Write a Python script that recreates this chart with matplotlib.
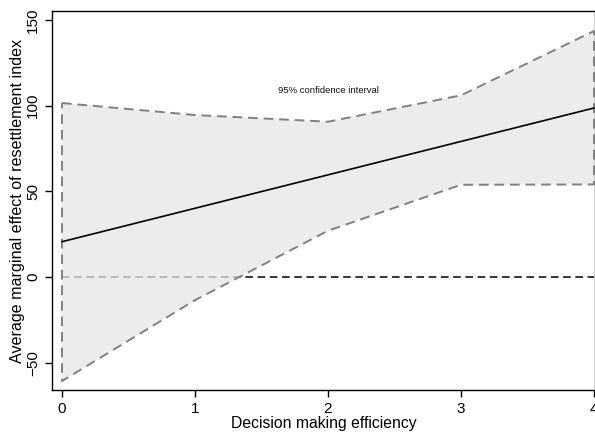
import matplotlib.pyplot as plt
import numpy as np

plt.rcParams['font.family'] = ['Liberation Sans', 'DejaVu Sans']

# values
efficiency = [0, 1, 2, 3, 4]
effect = [20.6, 40.1, 59.6, 79.1, 98.6]
ci_upper = [101.5, 94.5, 90.6, 106.0, 143.5]
ci_lower = [-60.7, -13.5, 27.0, 53.8, 54.0]

fig = plt.figure(figsize=(5.95, 4.34), dpi=100)
ax = fig.add_axes([0.0874, 0.1014, 0.9126, 0.8733])

# zero reference line (sits under the band, so it looks grey inside it)
ax.plot([efficiency[0], efficiency[-1]], [0, 0], color='black', lw=1.1,
        ls=(0, (5, 3)), zorder=1)

# confidence band
ax.fill_between(efficiency, ci_lower, ci_upper, facecolor=(0.9, 0.9, 0.9),
                alpha=0.75, lw=0, zorder=2)
xs = efficiency + efficiency[::-1] + [efficiency[0]]
ys = ci_upper + ci_lower[::-1] + [ci_upper[0]]
ax.plot(xs, ys, color='#808080', lw=1.4, ls=(0, (5, 3)), zorder=3)

ax.plot(efficiency, effect, color='black', lw=1.2, zorder=4)

ax.text(2.0, 109, "95% confidence interval", fontsize=6.8, ha='center',
        va='center', color='#111111')

ax.set_xlim(-0.075, 4.0075)
ax.set_ylim(-65.9, 155.2)
ax.set_xticks(efficiency)
ax.set_yticks([-50, 0, 50, 100, 150])
ax.tick_params(axis='both', direction='out', length=5, width=1, labelsize=11)
for lab in ax.get_yticklabels():
    lab.set_rotation(90)
    lab.set_va('center')
ax.set_xlabel("Decision making efficiency", fontsize=11.3, labelpad=0)
ax.set_ylabel("Average marginal effect of resettlement index", fontsize=11.6,
              labelpad=1)
for sp in ax.spines.values():
    sp.set_linewidth(1)

fig.savefig("out.png", dpi=100)
